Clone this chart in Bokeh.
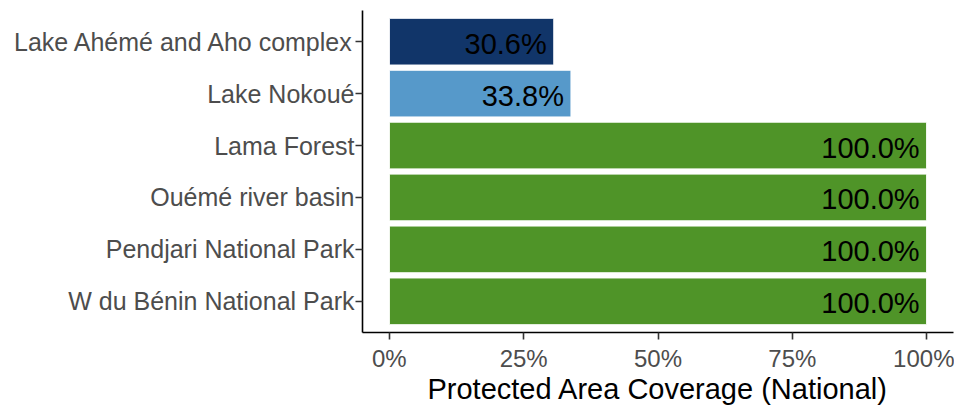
from bokeh.plotting import figure
from bokeh.models import ColumnDataSource, FactorRange, FixedTicker
from bokeh.core.properties import value
from bokeh.embed import file_html
from bokeh.resources import INLINE

# ---- data ----
sites = ["Lake Ahémé and Aho complex", "Lake Nokoué", "Lama Forest",
         "Ouémé river basin", "Pendjari National Park", "W du Bénin National Park"]
coverage = [30.6, 33.8, 100.0, 100.0, 100.0, 100.0]
x_ticks = [0, 25, 50, 75, 100]
x_tick_labels = ["0%", "25%", "50%", "75%", "100%"]
axis_title = "Protected Area Coverage (National)"

# ---- style ----
site_colors = {
    "Lake Ahémé and Aho complex": "#113569",
    "Lake Nokoué": "#5699CA",
}
default_color = "#4F9428"
FONT = "Liberation Sans"

src = ColumnDataSource(dict(
    site=sites,
    cov=coverage,
    color=[site_colors.get(s, default_color) for s in sites],
    label=[f"{v:.1f}%" for v in coverage],
))

y_range = FactorRange(factors=list(reversed(sites)), range_padding=0.1,
                      range_padding_units="absolute")

p = figure(width=954, height=410, y_range=y_range, x_range=(-5, 105),
           output_backend="svg", toolbar_location=None,
           min_border_left=362, min_border_right=1, min_border_top=10,
           min_border_bottom=78)

p.hbar(y="site", left=0, right="cov", height=0.9, source=src,
       fill_color="color", line_color="white", line_width=1)

p.text(x="cov", y="site", text="label", source=src, text_align="right",
       text_baseline="middle", x_offset=-7, y_offset=2,
       text_font=value(FONT), text_font_size="29px", text_color="#000000")

p.xaxis.ticker = FixedTicker(ticks=x_ticks)
p.xaxis.major_label_overrides = {t: l for t, l in zip(x_ticks, x_tick_labels)}
p.xaxis.axis_label = axis_title

for ax in (p.xaxis, p.yaxis):
    ax.axis_line_color = "#000000"
    ax.axis_line_width = 1.6
    ax.major_tick_line_color = "#333333"
    ax.major_tick_line_width = 1.6
    ax.major_tick_out = 7
    ax.major_tick_in = 0
    ax.minor_tick_line_color = None
    ax.major_label_text_font = FONT
    ax.major_label_text_color = "#4D4D4D"

p.yaxis.major_label_text_font_size = "25px"
p.xaxis.major_label_text_font_size = "24px"
p.yaxis.major_label_standoff = 1
p.xaxis.major_label_standoff = 5
p.xaxis.axis_label_text_font = FONT
p.xaxis.axis_label_text_font_size = "29px"
p.xaxis.axis_label_text_font_style = "normal"
p.xaxis.axis_label_text_color = "#000000"
p.xaxis.axis_label_standoff = -2

p.xgrid.grid_line_color = None
p.ygrid.grid_line_color = None
p.outline_line_color = None
p.background_fill_color = "white"
p.border_fill_color = "white"

open("out.html", "w").write(file_html(p, INLINE))
